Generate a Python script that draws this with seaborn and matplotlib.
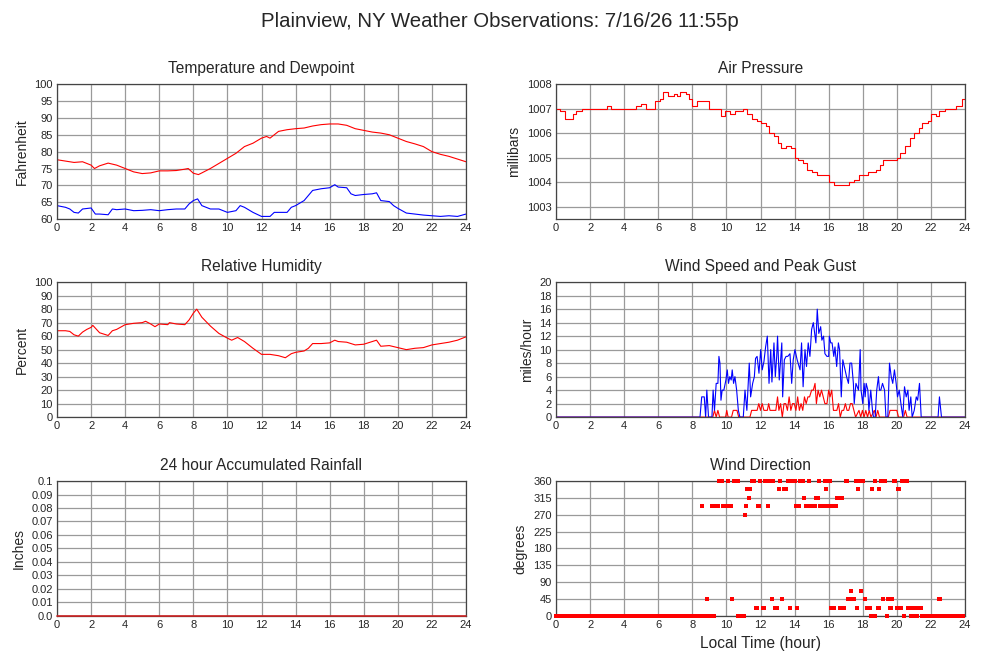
import numpy as np
import pandas as pd
import matplotlib
matplotlib.use("Agg")
import matplotlib.pyplot as plt
import seaborn as sns

# ---- data (hour of day, value) ----
temp_hours = [0, 0.5, 1, 1.5, 2, 2.2, 2.5, 3, 3.5, 4, 4.5, 5, 5.5, 6, 6.5, 7, 7.5, 7.7,
              8, 8.3, 8.5, 9, 9.5, 10, 10.5, 11, 11.5, 12, 12.3, 12.5, 13, 13.5, 14, 14.5,
              15, 15.5, 16, 16.5, 17, 17.5, 18, 18.5, 19, 19.5, 20, 20.5, 21, 21.5, 22,
              22.5, 23, 23.5, 24]
temp_f = [77.6, 77.2, 76.8, 77.0, 76.0, 75.0, 75.8, 76.6, 76.0, 75.0, 74.0, 73.5, 73.7,
          74.3, 74.3, 74.4, 74.8, 75.0, 73.6, 73.2, 73.7, 75.0, 76.5, 78.0, 79.5, 81.5, 82.5,
          84.0, 84.5, 84.0, 86.0, 86.5, 86.8, 87.0, 87.6, 88.0, 88.2, 88.2, 87.8, 86.8,
          86.3, 85.8, 85.5, 85.0, 84.0, 83.0, 82.3, 81.5, 80.0, 79.2, 78.6, 77.8, 77.0]

dew_hours = [0, 0.5, 0.75, 1, 1.25, 1.5, 2, 2.25, 2.5, 3, 3.25, 3.5, 4, 4.5, 5, 5.5, 6,
             6.5, 7, 7.5, 7.75, 8, 8.25, 8.5, 9, 9.5, 10, 10.5, 10.75, 11, 11.5, 12, 12.5,
             12.75, 13, 13.5, 13.75, 14, 14.5, 15, 15.5, 16, 16.3, 16.5, 17, 17.25, 17.5,
             18, 18.5, 18.75, 19, 19.5, 19.75, 20, 20.5, 21, 21.5, 22, 22.5, 23, 23.5, 24]
dew_f = [64.0, 63.5, 63.0, 62.0, 61.8, 63.0, 63.3, 61.5, 61.5, 61.3, 63.0, 62.8, 63.0,
         62.5, 62.6, 62.8, 62.5, 62.8, 63.0, 63.0, 64.5, 65.5, 66.0, 64.0, 63.0, 63.0, 62.0,
         62.5, 64.0, 63.5, 62.0, 60.8, 60.8, 62.0, 62.0, 62.0, 63.5, 64.0, 65.5, 68.5, 69.0,
         69.3, 70.2, 69.5, 69.3, 67.5, 67.0, 67.3, 67.5, 67.8, 65.5, 65.2, 64.0, 63.2, 61.8,
         61.5, 61.2, 61.0, 60.8, 61.0, 60.8, 61.5]

pres_hours = [0, 0.25, 0.5, 1.0, 1.2, 1.5, 3.0, 3.2, 4.7, 5.0, 5.3, 5.8, 6.1, 6.3, 6.6,
              6.9, 7.1, 7.3, 7.6, 7.8, 8.0, 8.3, 9.0, 9.7, 9.9, 10.2, 10.5, 11.0, 11.2,
              11.5, 11.8, 12.0, 12.3, 12.5, 12.8, 13.0, 13.2, 13.5, 13.8, 14.0, 14.2,
              14.5, 14.7, 15.0, 15.3, 16.0, 16.3, 17.2, 17.5, 17.8, 18.3, 18.8, 19.0,
              19.2, 20.0, 20.2, 20.5, 20.8, 21.0, 21.3, 21.5, 21.8, 22.0, 22.3, 22.5,
              22.8, 23.5, 23.8, 24.0]
pres_mb = [1007.0, 1006.9, 1006.6, 1006.8, 1006.9, 1007.0, 1007.1, 1007.0, 1007.1,
           1007.2, 1007.0, 1007.3, 1007.4, 1007.7, 1007.5, 1007.6, 1007.5, 1007.7, 1007.6,
           1007.4, 1007.1, 1007.3, 1007.0, 1006.7, 1006.9, 1006.8, 1006.9, 1007.0, 1006.8,
           1006.6, 1006.5, 1006.4, 1006.3, 1006.0, 1005.9, 1005.6, 1005.4, 1005.5, 1005.4,
           1005.0, 1004.9, 1004.8, 1004.5, 1004.4, 1004.3, 1004.0, 1003.9, 1004.0, 1004.1,
           1004.3, 1004.4, 1004.5, 1004.7, 1004.9, 1005.0, 1005.2, 1005.5, 1005.8, 1006.0,
           1006.2, 1006.4, 1006.5, 1006.8, 1006.7, 1006.9, 1007.0, 1007.1, 1007.4, 1007.4]

rh_hours = [0, 0.5, 0.75, 1, 1.25, 1.5, 1.75, 2, 2.1, 2.5, 3, 3.25, 3.5, 4, 4.5, 5, 5.2,
            5.5, 5.75, 6, 6.5, 6.6, 7, 7.5, 7.75, 8, 8.2, 8.5, 9, 9.5, 10, 10.25, 10.6, 11,
            11.5, 12, 12.5, 13, 13.4, 13.75, 14, 14.5, 14.75, 15, 15.5, 16, 16.3, 16.5, 17,
            17.5, 18, 18.5, 18.75, 19, 19.5, 20, 20.5, 21, 21.5, 22, 22.5, 23, 23.5, 24]
rh_pct = [64, 64, 63.5, 61, 60, 63, 65, 66.5, 68, 62.5, 60.5, 64, 65, 68.5, 69.5, 70, 71,
          69, 67, 69, 68.5, 70, 69, 68.5, 72, 77, 80, 74, 67.5, 62, 58.5, 57, 59, 56, 51,
          46.5, 46.5, 45.5, 44, 47, 48, 49, 51, 54.5, 54.5, 55, 57, 56, 55.5, 53.5, 54, 56,
          57, 52.5, 53, 51.5, 50, 51, 51.5, 53.5, 54.5, 55.5, 57, 59.5]

gust_hours = [0, 8.45, 8.55, 8.7, 8.78, 8.85, 8.95, 9.15, 9.22, 9.3, 9.4, 9.5, 9.56, 9.62,
              9.68, 9.75, 9.85, 9.97, 10.05, 10.12, 10.2, 10.28, 10.34, 10.42, 10.5, 10.6,
              10.7, 10.79, 10.99, 11.09, 11.2, 11.34, 11.42, 11.54, 11.64, 11.71, 11.8,
              11.91, 12.01, 12.1, 12.2, 12.3, 12.4, 12.5, 12.6, 12.67, 12.79, 12.87, 12.95,
              13.0, 13.1, 13.2, 13.25, 13.3, 13.4, 13.5, 13.6, 13.73, 13.83, 13.92, 14.02,
              14.15, 14.32, 14.41, 14.5, 14.61, 14.7, 14.8, 14.9, 15.0, 15.1, 15.2, 15.25,
              15.33, 15.42, 15.53, 15.6, 15.7, 15.78, 15.9, 16.0, 16.04, 16.12, 16.2, 16.3,
              16.37, 16.47, 16.57, 16.64, 16.74, 16.83, 16.96, 17.05, 17.16, 17.25, 17.35,
              17.45, 17.5, 17.6, 17.75, 17.85, 17.9, 18.0, 18.08, 18.14, 18.2, 18.3, 18.36,
              18.47, 18.57, 18.63, 18.73, 18.82, 18.92, 18.98, 19.06, 19.16, 19.28, 19.36,
              19.47, 19.57, 19.67, 19.76, 19.86, 19.96, 20.04, 20.14, 20.24, 20.35, 20.45,
              20.55, 20.65, 20.72, 20.82, 20.9, 21.02, 21.14, 21.22, 21.33, 21.43, 22.42,
              22.5, 22.62, 24]
gust_mph = [0, 0, 3, 3, 0, 4, 0, 0, 4, 1, 5, 5, 9, 8, 2.5, 4, 4, 5.5, 7, 5, 6, 5.5, 7, 5,
            6, 4, 1, 0, 0, 4, 1, 8, 3, 5, 6, 8.7, 9, 6.5, 10, 7, 8.2, 10.4, 12, 5, 10, 5.2,
            11, 6, 9, 12, 5.5, 9.2, 11, 3, 8.5, 9, 9, 9.4, 5, 8.5, 10, 8.5, 7, 11, 4.5, 10,
            7.5, 11, 9, 13, 14, 12, 11, 16, 12.4, 13.4, 11.4, 12, 9.4, 9, 9, 12, 11, 11, 9,
            10.4, 7.5, 11, 10, 3, 8.5, 7, 6, 5, 8, 8, 5, 2, 5, 4, 10, 4, 2, 5, 3, 5, 4, 1, 4,
            1, 0, 0, 4, 6, 4, 4, 5, 4, 0, 0, 8, 6, 5, 7, 5, 3, 4, 2, 0, 4.5, 3, 4, 1, 3, 0, 1,
            3, 2.5, 5, 0, 0, 3, 0, 0]

speed_hours = [0, 9.2, 9.3, 9.4, 9.5, 9.6, 9.95, 10.02, 10.1, 10.3, 10.4, 10.62, 10.72,
               11.38, 11.48, 11.8, 11.9, 12.0, 12.1, 12.2, 12.4, 12.48, 12.56, 12.9, 13.0,
               13.08, 13.18, 13.28, 13.38, 13.48, 13.58, 13.68, 13.78, 13.88, 13.98, 14.08,
               14.18, 14.28, 14.38, 14.48, 14.58, 14.68, 14.78, 14.88, 15.0, 15.1, 15.2,
               15.28, 15.38, 15.48, 15.58, 15.68, 15.78, 15.9, 16.0, 16.08, 16.18, 16.28,
               16.48, 16.58, 16.68, 16.78, 16.88, 16.98, 17.08, 17.18, 17.28, 17.38, 17.48,
               17.58, 17.78, 17.88, 17.98, 18.08, 18.18, 18.28, 18.38, 18.48, 18.68, 18.78,
               18.88, 18.98, 19.5, 19.6, 20.0, 20.1, 20.4, 20.5, 20.6, 24]
speed_mph = [0, 0, 1, 0, 1, 0, 0, 1, 0, 0, 1, 1, 0, 0, 1, 1, 2, 1, 2, 1, 1, 2, 1, 1, 3, 1,
             2, 0, 2, 2, 1, 3, 1, 2, 2, 1, 3, 1, 2, 1, 3, 2, 3, 3, 4, 4, 5, 2, 4, 3, 4, 3, 2,
             2, 4, 3, 4, 1, 1, 2, 0, 1, 1, 2, 1, 1, 2, 2, 1, 0, 1, 0, 1, 0, 1, 0, 1, 0, 1, 0,
             1, 0, 0, 1, 1, 0, 0, 1, 0, 0]

# wind direction: hours at which each compass value was reported
dir_360 = [9.55, 9.62, 9.7, 9.76, 10.08, 10.45, 10.52, 10.6, 10.66, 11.53, 11.6, 11.98,
           12.27, 12.37, 12.47, 12.55, 12.62, 12.72, 13.17, 13.6, 13.68, 13.85, 13.93, 14.0,
           14.34, 14.42, 14.5, 14.85, 15.44, 15.79, 15.87, 15.95, 16.03, 16.1, 17.0, 17.05,
           17.6, 17.85, 17.95, 18.04, 18.73, 19.08, 19.15, 19.25, 19.31, 19.82, 19.88,
           20.33, 20.42, 20.5, 20.58]
dir_337 = [11.23, 11.41, 13.09, 13.35, 13.42, 13.48, 15.83, 17.75, 18.57, 18.98, 20.07, 20.13]
dir_315 = [11.33, 14.58, 15.24, 15.3, 15.36, 16.48, 16.57, 16.65, 16.73, 16.8]
dir_292 = [8.59, 9.18, 9.25, 9.33, 9.42, 9.5, 9.82, 9.9, 9.98, 10.18, 10.25, 11.15, 11.84,
           11.94, 12.43, 14.07, 14.25, 14.68, 14.76, 14.85, 14.93, 15.0, 15.08, 15.15, 15.2,
           15.5, 15.58, 15.65, 15.7, 15.99, 16.22, 16.42]
dir_270 = [11.1]
dir_67 = [17.32, 17.9]
dir_45 = [8.84, 10.35, 12.7, 13.25, 17.16, 17.25, 17.42, 17.51, 18.14, 19.21, 19.5, 19.74,
          22.5, 22.56]
dir_22 = [11.72, 11.78, 12.13, 12.2, 12.86, 12.92, 12.99, 13.76, 14.17, 16.14, 16.22, 16.34,
          16.67, 16.92, 17.67, 18.24, 18.31, 18.38, 18.43, 18.88, 18.95, 19.57, 19.67, 20.0,
          20.25, 20.68, 20.75, 20.85, 20.92, 21.1, 21.17, 21.3, 21.36, 21.43]
dir_0 = [8.67, 8.75, 8.92, 9.0, 9.08, 9.25, 10.7, 10.78, 10.86, 10.94, 11.02, 18.47, 18.55,
         18.63, 18.69, 19.41, 20.43, 20.84, 20.92, 21.0, 21.08, 21.17]
calm_spans = [(0, 8.5), (21.45, 22.45), (22.65, 23.95)]   # continuous 0 reports

rain_hours = [0, 24]
rain_in = [0.0, 0.0]

# ---- build the direction table ----
dir_rows = []
for deg, hrs in [(360, dir_360), (337.5, dir_337), (315, dir_315), (292.5, dir_292),
                 (270, dir_270), (67.5, dir_67), (45, dir_45), (22.5, dir_22), (0, dir_0)]:
    dir_rows += [(h, deg) for h in hrs]
for a, b in calm_spans:
    # station reports every 5 minutes
    dir_rows += [(h, 0) for h in np.arange(a, b + 1e-6, 5 / 60)]
wind_dir = pd.DataFrame(dir_rows, columns=["hour", "deg"])

# ---- style ----
sns.set_style("white")
plt.rcParams["font.family"] = ["Liberation Sans", "DejaVu Sans"]

fig = plt.figure(figsize=(10, 6.6), dpi=100)
fig.suptitle("Plainview, NY Weather Observations: 7/16/26 11:55p", fontsize=14.7, y=0.982)

W, H = 0.409, 0.2045
rects = {
    "temp": (0.057, 0.668, W, H), "pres": (0.556, 0.668, W, H),
    "rh": (0.057, 0.368, W, H), "wind": (0.556, 0.368, W, H),
    "rain": (0.057, 0.0667, W, H), "dir": (0.556, 0.0667, W, H),
}
axes = {k: fig.add_axes(r) for k, r in rects.items()}


def dress(ax, title, ylabel, yticks, ylim, ylabels=None):
    ax.set_xlim(0, 24)
    ax.set_ylim(*ylim)
    ax.set_xticks(range(0, 25, 2))
    ax.set_yticks(yticks)
    if ylabels is not None:
        ax.set_yticklabels(ylabels)
    ax.grid(True, color="#9a9a9a", lw=0.9)
    ax.set_axisbelow(True)
    ax.tick_params(length=0, labelsize=8, pad=3)
    for s in ax.spines.values():
        s.set_color("#444444")
        s.set_linewidth(0.9)
    ax.set_title(title, fontsize=11.2, pad=8)
    ax.set_ylabel(ylabel, fontsize=10, labelpad=4)
    ax.set_xlabel("")


ax = axes["temp"]
sns.lineplot(x=temp_hours, y=temp_f, ax=ax, color="#ff0000", lw=0.8)
sns.lineplot(x=dew_hours, y=dew_f, ax=ax, color="#0000ff", lw=0.8)
dress(ax, "Temperature and Dewpoint", "Fahrenheit", range(60, 101, 5), (60, 100))

ax = axes["pres"]
sns.lineplot(x=pres_hours, y=pres_mb, ax=ax, color="#ff0000", lw=0.8, drawstyle="steps-post")
dress(ax, "Air Pressure", "millibars", range(1003, 1009), (1002.5, 1008))

ax = axes["rh"]
sns.lineplot(x=rh_hours, y=rh_pct, ax=ax, color="#ff0000", lw=0.8)
dress(ax, "Relative Humidity", "Percent", range(0, 101, 10), (0, 100))

ax = axes["wind"]
sns.lineplot(x=speed_hours, y=speed_mph, ax=ax, color="#ff0000", lw=0.8)
sns.lineplot(x=gust_hours, y=gust_mph, ax=ax, color="#0000ff", lw=0.8)
dress(ax, "Wind Speed and Peak Gust", "miles/hour", range(0, 21, 2), (0, 20))

ax = axes["rain"]
rain_ticks = [i / 100 for i in range(11)]
rain_labels = ["0.0"] + [f"{t:.2f}" for t in rain_ticks[1:-1]] + ["0.1"]
dress(ax, "24 hour Accumulated Rainfall", "Inches", rain_ticks, (0, 0.1), rain_labels)
sns.lineplot(x=rain_hours, y=rain_in, ax=ax, color="#cc2222", lw=1.2, clip_on=False, zorder=5)

ax = axes["dir"]
sns.scatterplot(data=wind_dir, x="hour", y="deg", ax=ax, color="#ff0000", marker="s",
                s=5.5, linewidth=0, clip_on=False, zorder=5)
dress(ax, "Wind Direction", "degrees", range(0, 361, 45), (0, 360))
ax.set_xlabel("Local Time (hour)", fontsize=11.2, labelpad=4)

fig.savefig("out.png", dpi=100)
